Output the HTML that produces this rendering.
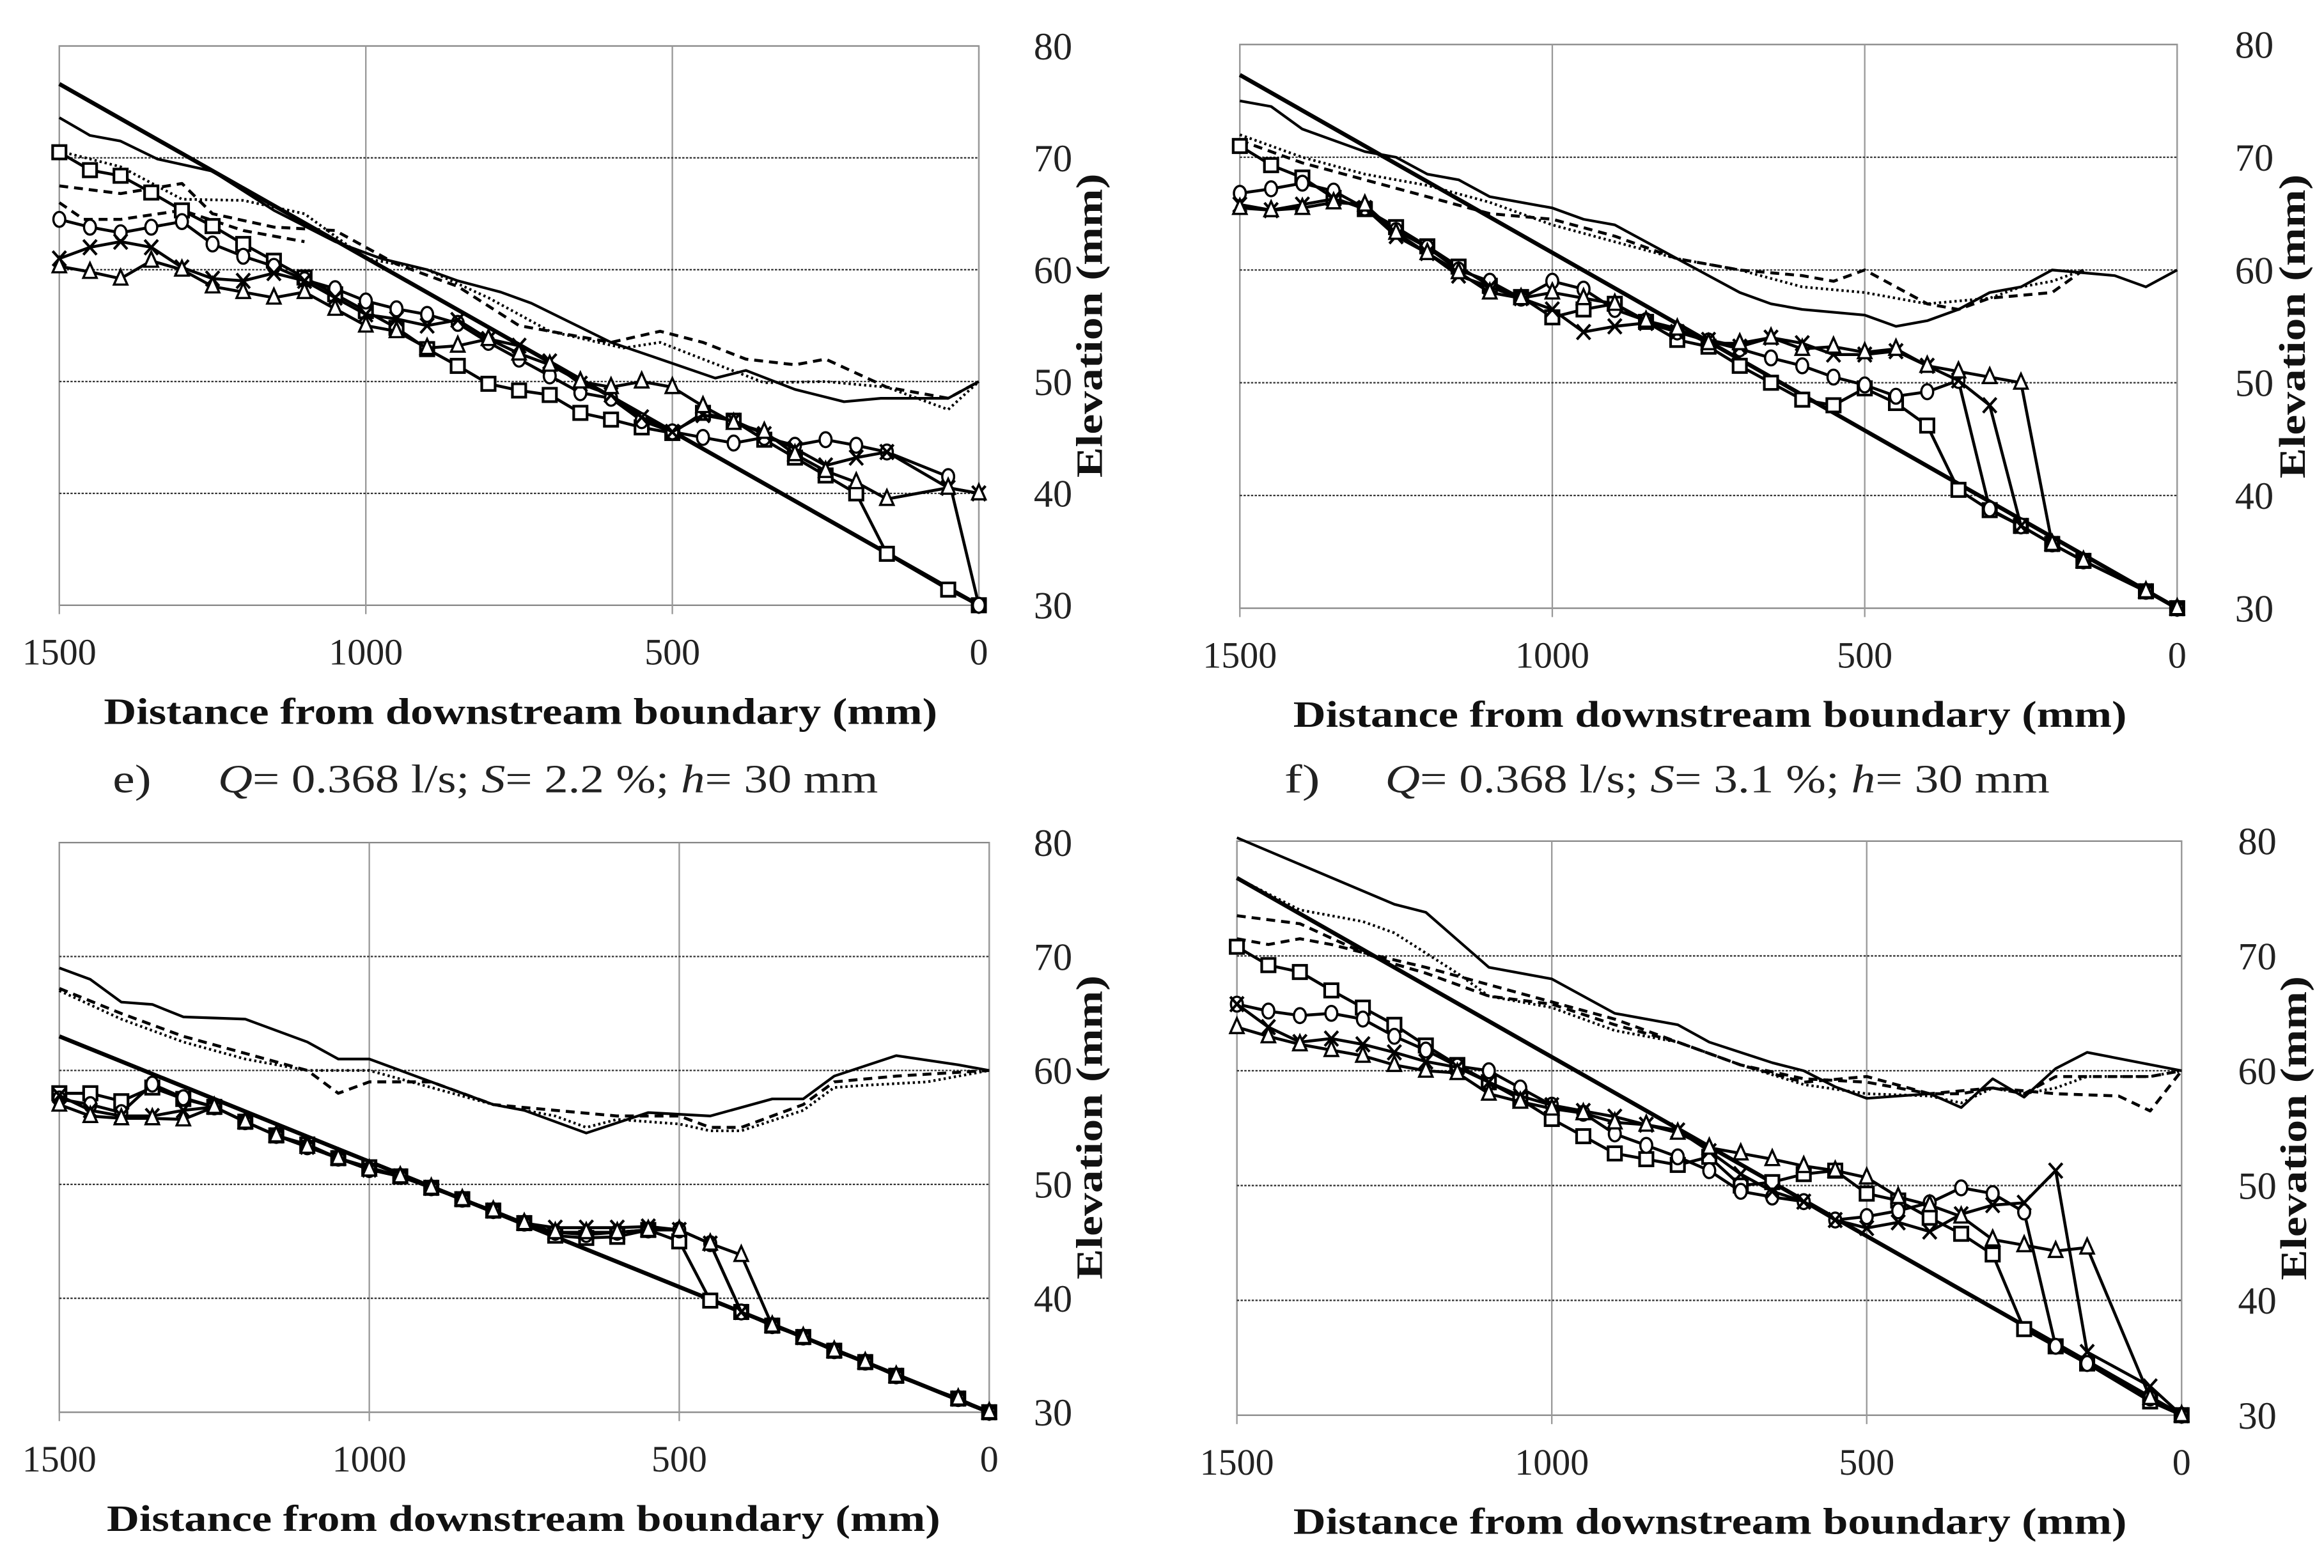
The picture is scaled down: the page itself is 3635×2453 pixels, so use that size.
<!DOCTYPE html>
<html><head><meta charset="utf-8"><style>
html,body{margin:0;padding:0;background:#fff;}
svg{display:block;font-family:"Liberation Serif",serif;}
</style></head><body>
<svg id="fig" width="3635" height="2453" viewBox="0 0 1567 1057" preserveAspectRatio="none" xmlns="http://www.w3.org/2000/svg">
<rect x="0" y="0" width="1567" height="1057" fill="#fff"/>
<g font-size="27" fill="#222">
<text x="76" y="534" textLength="26" lengthAdjust="spacingAndGlyphs">e)</text>
<text x="147" y="534" textLength="445" lengthAdjust="spacingAndGlyphs"><tspan font-style="italic">Q</tspan>= 0.368 l/s; <tspan font-style="italic">S</tspan>= 2.2 %; <tspan font-style="italic">h</tspan>= 30 mm</text>
</g>
<g font-size="27" fill="#222">
<text x="866" y="534" textLength="24" lengthAdjust="spacingAndGlyphs">f)</text>
<text x="934" y="534" textLength="448" lengthAdjust="spacingAndGlyphs"><tspan font-style="italic">Q</tspan>= 0.368 l/s; <tspan font-style="italic">S</tspan>= 3.1 %; <tspan font-style="italic">h</tspan>= 30 mm</text>
</g>
</svg>
<script>
// ---- Panel TL ----
const tlBedX=[1500,0]; const tlBedY=[76.6,30];
const tlSolidX=[1500,1450,1400,1340,1250,1150,1050,975,900,850,780,730,600,520,430,380,300,220,160,50,0];
const tlSolidY=[73.6,72,71.5,69.9,68.8,65.3,62.5,61,60,59,58,57,53.5,52,50.3,51,49.3,48.2,48.5,48.5,50];
const tlDotX=[1500,1400,1300,1200,1100,1000,900,800,700,580,520,450,350,250,150,50,0];
const tlDotY=[70.6,69.2,66.3,66.2,65,61,60,57.5,54.5,53,53.5,52,49.9,50,49.5,47.5,50];
const tlDashX=[1500,1400,1300,1250,1150,1050,950,850,750,600,520,450,380,300,250,150,50,0];
const tlDashY=[67.5,66.8,67.7,65,63.8,63.5,60.5,58.5,55,53.5,54.5,53.5,52,51.5,52,49.5,48.5,50];
const tlDash2X=[1500,1460,1400,1300,1200,1150,1100];
const tlDash2Y=[66,64.5,64.5,65.3,63.5,63,62.5];
const tlSqX=[1500,1450,1400,1350,1300,1250,1200,1150,1100,1050,1000,950,900,850,800,750,700,650,600,550,500,450,400,350,300,250,200,150,50,0];
const tlSqY=[70.5,68.9,68.4,66.9,65.3,63.9,62.3,60.8,59.3,57.8,56.3,54.8,52.9,51.4,49.8,49.2,48.8,47.2,46.6,45.9,45.4,47.2,46.5,44.8,43.2,41.6,40.0,34.6,31.4,30];
const tlCiX=[1500,1450,1400,1350,1300,1250,1200,1150,1100,1050,1000,950,900,850,800,750,700,650,600,550,500,450,400,350,300,250,200,150,50,0];
const tlCiY=[64.5,63.8,63.3,63.8,64.3,62.3,61.2,60.3,59.1,58.3,57.2,56.5,56,55.2,53.5,52,50.5,49,48.5,46.5,45.5,45,44.5,45,44.3,44.8,44.3,43.7,41.5,30];
const tlXX=[1500,1450,1400,1350,1300,1250,1200,1150,1100,1050,1000,950,900,850,800,750,700,650,600,550,500,450,400,350,300,250,200,150,50,0];
const tlXY=[61,62,62.5,62,60.2,59.2,59,59.7,59,57.5,56,55.6,55,55.5,53.8,53.2,51.8,49.8,48.8,46.8,45.5,47,46.5,45.3,44,42.5,43.2,43.7,40.5,40];
const tlTrX=[1500,1450,1400,1350,1300,1250,1200,1150,1100,1050,1000,950,900,850,800,750,700,650,600,550,500,450,400,350,300,250,200,150,50,0];
const tlTrY=[60.3,59.8,59.2,60.8,60,58.5,58,57.5,58,56.5,55,54.5,53,53.2,53.8,52.5,51.5,50,49.5,50,49.5,47.8,46.3,45.5,43.5,42,41,39.5,40.5,40];

// ---- Panel TR ----
const trBedX=[1500,0]; const trBedY=[77.3,30];
const trSolidX=[1500,1450,1400,1300,1250,1200,1150,1100,1000,950,900,800,700,650,600,500,450,400,350,300,250,200,100,50,0];
const trSolidY=[75,74.5,72.5,70.5,70,68.5,68,66.5,65.5,64.5,64,61,58,57,56.5,56,55,55.5,56.5,58,58.5,60,59.5,58.5,60];
const trDotX=[1500,1400,1300,1200,1100,1000,900,800,700,600,500,400,300,250,200,150];
const trDotY=[72,70,68.5,67.5,66,64,62.5,61,60,58.5,58,57,57.5,58.5,59,60];
const trDashX=[1500,1400,1300,1200,1100,1000,900,800,700,600,550,500,450,400,350,300,200,150];
const trDashY=[71.5,69.5,68,66.5,65,64.5,63,61,60,59.5,59,60,58.5,57,56.5,57.5,58,60];
const trSqX=[1500,1450,1400,1350,1300,1250,1200,1150,1100,1050,1000,950,900,850,800,750,700,650,600,550,500,450,400,350,300,250,200,150,50,0];
const trSqY=[71,69.3,68.2,66.4,65.4,63.8,62.1,60.3,58.6,57.6,55.8,56.5,57,55.4,53.8,53.2,51.5,50,48.5,48,49.5,48.2,46.2,40.5,38.7,37.3,35.7,34.2,31.5,30];
const trCiX=[1500,1450,1400,1350,1300,1250,1200,1150,1100,1050,1000,950,900,850,800,750,700,650,600,550,500,450,400,350,300,250,200,150,50,0];
const trCiY=[66.8,67.2,67.7,67,65.5,63.5,62,60,59,57.5,59,58.3,56.5,55.5,54.5,53.7,53,52.2,51.5,50.5,49.8,48.8,49.2,50.2,38.8,37.3,35.7,34.2,31.5,30];
const trXX=[1500,1450,1400,1350,1300,1250,1200,1150,1100,1050,1000,950,900,850,800,750,700,650,600,550,500,450,400,350,300,250,200,150,50,0];
const trXY=[65.8,65.3,65.8,66.3,65.5,63,61.5,59.5,58.5,57.5,56.5,54.5,55,55.3,54.5,53.8,53.2,54,53.5,52.5,52.5,52.8,51.5,50.2,48,37.3,35.7,34.2,31.5,30];
const trTrX=[1500,1450,1400,1350,1300,1250,1200,1150,1100,1050,1000,950,900,850,800,750,700,650,600,550,500,450,400,350,300,250,200,150,50,0];
const trTrY=[65.5,65.3,65.5,66,65.8,63.3,61.5,59.8,58,57.5,58,57.5,57,55.5,54.8,53.5,53.5,54,53,53.2,52.7,53,51.5,51,50.5,50,35.7,34.2,31.5,30];

// ---- Panel BL ----
const blBedX=[1500,0]; const blBedY=[63,30];
const blSolidX=[1500,1450,1400,1350,1300,1200,1100,1050,1000,900,800,750,650,550,450,350,300,250,150,50,0];
const blSolidY=[69,68,66,65.8,64.7,64.5,62.5,61,61,59,57,56.5,54.5,56.3,56,57.5,57.5,59.5,61.3,60.5,60];
const blDotX=[1500,1400,1300,1200,1100,1000,900,800,700,650,600,500,450,400,300,250,200,100,0];
const blDotY=[67,64.5,62.5,61,60,60,58.5,57,56,55,55.7,55.3,54.7,54.7,56.5,58.5,58.7,59,60];
const blDashX=[1500,1400,1300,1200,1100,1050,1000,900,800,700,600,500,450,400,300,250,150,0];
const blDashY=[67.2,65,63,61.5,60,58,59,59,57,56.5,56,56,55,55,57,59,59.5,60];
const blSqX=[1500,1450,1400,1350,1300,1250,1200,1150,1100,1050,1000,950,900,850,800,750,700,650,600,550,500,450,400,350,300,250,200,150,50,0];
const blSqY=[58,58,57.3,58.5,57.5,56.8,55.5,54.3,53.5,52.3,51.5,50.7,49.7,48.7,47.7,46.6,45.5,45.3,45.4,46,45,39.8,38.8,37.6,36.6,35.4,34.4,33.2,31.2,30];
const blCiX=[1500,1450,1400,1350,1300,1250,1200,1150,1100,1050,1000,950,900,850,800,750,700,650,600,550,500,450,400,350,300,250,200,150,50,0];
const blCiY=[57.5,57,56.3,58.8,57.6,56.8,55.5,54.3,53.3,52.3,51.3,50.7,49.7,48.7,47.7,46.6,45.8,45.6,45.8,46,46,44.8,38.8,37.6,36.6,35.4,34.4,33.2,31.2,30];
const blXX=[1500,1450,1400,1350,1300,1250,1200,1150,1100,1050,1000,950,900,850,800,750,700,650,600,550,500,450,400,350,300,250,200,150,50,0];
const blXY=[57.8,56.5,56,56,56.5,56.8,55.5,54.3,53.3,52.3,51.3,50.7,49.7,48.7,47.7,46.6,46.2,46.2,46.2,46.3,46,44.8,38.8,37.6,36.6,35.4,34.4,33.2,31.2,30];
const blTrX=[1500,1450,1400,1350,1300,1250,1200,1150,1100,1050,1000,950,900,850,800,750,700,650,600,550,500,450,400,350,300,250,200,150,50,0];
const blTrY=[57,56,55.8,55.8,55.7,56.8,55.5,54.3,53.3,52.3,51.3,50.7,49.7,48.7,47.7,46.6,45.8,45.8,45.8,46,46,44.8,43.8,37.6,36.6,35.4,34.4,33.2,31.2,30];

// ---- Panel BR ----
const brBedX=[1500,0]; const brBedY=[76.8,30];
const brSolidX=[1500,1250,1200,1100,1000,900,800,750,650,600,550,500,400,350,300,250,200,150,0];
const brSolidY=[80.3,74.5,73.8,69,68,65,64,62.5,60.7,60,58.6,57.6,58,56.8,59.3,57.7,60.2,61.6,60];
const brDotX=[1500,1400,1300,1250,1150,1100,1000,900,800,700,600,500,400,350,300,250,200,150,50,0];
const brDotY=[76.8,74,73,72,68.5,66.5,65.5,63.5,62.5,60.5,58.8,58,57.8,57.2,58.5,58,58.5,59.5,59.5,60];
const brDashX=[1500,1400,1300,1200,1100,1000,900,800,700,600,500,400,350,300,250,200,150,50,0];
const brDashY=[73.5,72.8,70.3,69,67.5,66,64.5,62.5,60.5,59,59.5,58,58,58.5,58,59.5,59.5,59.5,60];
const brDash2X=[1500,1450,1400,1350,1300,1250,1200,1100,1000,900,800,700,600,500,400,300,200,100,50,0];
const brDash2Y=[71.5,71,71.5,71,70.3,69.3,68.5,66.5,65.8,64,62.5,60.5,59.3,59,58,58.5,58,57.8,56.5,60];
const brSqX=[1500,1450,1400,1350,1300,1250,1200,1150,1100,1050,1000,950,900,850,800,750,700,650,600,550,500,450,400,350,300,250,200,150,50,0];
const brSqY=[70.8,69.2,68.6,67,65.5,64,62.2,60.5,59,57.5,55.8,54.3,52.8,52.3,51.8,52.5,50,50.3,51,51.3,49.3,48.7,47.2,45.8,44,37.5,36,34.5,31.2,30];
const brCiX=[1500,1450,1400,1350,1300,1250,1200,1150,1100,1050,1000,950,900,850,800,750,700,650,600,550,500,450,400,350,300,250,200,150,50,0];
const brCiY=[65.8,65.2,64.8,65,64.5,63,61.8,60.4,60,58.5,57,56.3,54.5,53.5,52.5,51.3,49.5,49,48.6,47,47.3,47.8,48.5,49.8,49.3,47.7,36,34.5,31.5,30];
const brXX=[1500,1450,1400,1350,1300,1250,1200,1150,1100,1050,1000,950,900,850,800,750,700,650,600,550,500,450,400,350,300,250,200,150,50,0];
const brXY=[65.8,63.8,62.5,62.8,62.3,61.6,60.8,60.3,59,57.8,57,56.5,56,55.3,54.8,53,51,49.5,48.6,47,46.3,46.8,46,47.5,48.3,48.5,51.3,35.5,32.5,30];
const brTrX=[1500,1450,1400,1350,1300,1250,1200,1150,1100,1050,1000,950,900,850,800,750,700,650,600,550,500,450,400,350,300,250,200,150,50,0];
const brTrY=[63.8,63,62.3,61.8,61.3,60.5,60,59.8,58,57.3,56.7,56.3,55.5,55.3,54.6,53.3,52.8,52.3,51.7,51.3,50.7,49,48.3,47.3,45.3,44.8,44.3,44.6,31.5,30];

const xTicks=[1500,1000,500,0];
const yTicks=[30,40,50,60,70,80];

const NS="http://www.w3.org/2000/svg";
const svg=document.getElementById('fig');
function mk(tag,attrs,parent){const e=document.createElementNS(NS,tag);for(const k in attrs)e.setAttribute(k,attrs[k]);(parent||svg).appendChild(e);return e;}

const panels=[
 {id:'tl',x0:40,x1:660,y80:31,y30:408,lab:710,ttl:734,tx:351,
  series:[[tlBedX,tlBedY,'bed'],[tlSolidX,tlSolidY,'solid'],[tlDotX,tlDotY,'dot'],[tlDashX,tlDashY,'dash'],[tlDash2X,tlDash2Y,'dash'],
   [tlSqX,tlSqY,'sq'],[tlCiX,tlCiY,'ci'],[tlXX,tlXY,'x'],[tlTrX,tlTrY,'tr']]},
 {id:'tr',x0:836,x1:1468,y80:30,y30:410,lab:1520,ttl:1545,tx:1153,
  series:[[trBedX,trBedY,'bed'],[trSolidX,trSolidY,'solid'],[trDotX,trDotY,'dot'],[trDashX,trDashY,'dash'],
   [trSqX,trSqY,'sq'],[trCiX,trCiY,'ci'],[trXX,trXY,'x'],[trTrX,trTrY,'tr']]},
 {id:'bl',x0:40,x1:667,y80:568,y30:952,lab:710,ttl:734,tx:353,
  series:[[blBedX,blBedY,'bed'],[blSolidX,blSolidY,'solid'],[blDotX,blDotY,'dot'],[blDashX,blDashY,'dash'],
   [blSqX,blSqY,'sq'],[blCiX,blCiY,'ci'],[blXX,blXY,'x'],[blTrX,blTrY,'tr']]},
 {id:'br',x0:834,x1:1471,y80:567,y30:954,lab:1522,ttl:1546,tx:1153,
  series:[[brBedX,brBedY,'bed'],[brSolidX,brSolidY,'solid'],[brDotX,brDotY,'dot'],[brDashX,brDashY,'dash'],[brDash2X,brDash2Y,'dash'],
   [brSqX,brSqY,'sq'],[brCiX,brCiY,'ci'],[brXX,brXY,'x'],[brTrX,brTrY,'tr']]}
];
const names={bed:'initial-bed-line',solid:'water-surface-solid',dot:'water-surface-dotted',dash:'water-surface-dashed',sq:'bed-profile-squares',ci:'bed-profile-circles',x:'bed-profile-crosses',tr:'bed-profile-triangles'};

panels.forEach(p=>{
 const g=mk('g',{});
 
 
 const sx=v=>p.x1+(p.x0-p.x1)*v/1500;
 const sy=v=>p.y30-(v-30)*(p.y30-p.y80)/50;
 const fr=mk('rect',{x:p.x0,y:sy(80),width:p.x1-p.x0,height:sy(30)-sy(80),fill:'none',stroke:'#888','stroke-width':1},g);
 
 
 xTicks.forEach(t=>{
  const gl=mk('line',{x1:sx(t),x2:sx(t),y1:sy(80),y2:sy(30)+6,stroke:'#999','stroke-width':1},g);
  
  
  const tl=mk('text',{x:sx(t),y:sy(30)+40,'text-anchor':'middle','font-size':25,fill:'#222'},g);
  tl.textContent=t;
  
  
 });
 yTicks.forEach(t=>{
  if(t>30&&t<80){
   const gl=mk('line',{x1:p.x0,x2:p.x1,y1:sy(t),y2:sy(t),stroke:'#333','stroke-width':1,'stroke-dasharray':'1.5,1'},g);
   
   
  }
  const tl=mk('text',{x:p.lab,y:sy(t)+9,'text-anchor':'middle','font-size':26,fill:'#222'},g);
  tl.textContent=t;
  
  
 });
 const mid=(sy(80)+sy(30))/2;
 const yt=mk('text',{x:p.ttl,y:mid,'text-anchor':'middle','font-size':25,'font-weight':'bold',fill:'#111',transform:`rotate(-90 ${p.ttl} ${mid})`,dy:9,textLength:205,lengthAdjust:'spacingAndGlyphs'},g);
 yt.textContent='Elevation (mm)';
 
 
 const xt=mk('text',{x:p.tx,y:sy(30)+80,'text-anchor':'middle','font-size':25,'font-weight':'bold',fill:'#111',textLength:562,lengthAdjust:'spacingAndGlyphs'},g);
 xt.textContent='Distance from downstream boundary (mm)';
 
 
 p.series.forEach(([xs,ys,type])=>{
  const pts=xs.map((x,i)=>sx(x).toFixed(1)+','+sy(ys[i]).toFixed(1)).join(' ');
  const st={fill:'none',stroke:'#000','stroke-linejoin':'round'};
  if(type==='bed'){st['stroke-width']=2.8;}
  else if(type==='solid'){st['stroke-width']=1.8;}
  else if(type==='dot'){st['stroke-width']=1.8;st['stroke-dasharray']='1.5,2';}
  else if(type==='dash'){st['stroke-width']=2;st['stroke-dasharray']='6,4';}
  else {st['stroke-width']=2;}
  const pl=mk('polyline',Object.assign({points:pts},st),g);
  
  
  if(['sq','ci','x','tr'].includes(type)){
   xs.forEach((x,i)=>{
    const cx=sx(x),cy=sy(ys[i]);let m;
    if(type==='sq')m=mk('rect',{x:cx-4.5,y:cy-4.5,width:9,height:9,fill:'#fff',stroke:'#000','stroke-width':1.8},g);
    else if(type==='ci')m=mk('ellipse',{cx:cx,cy:cy,rx:4,ry:5,fill:'#fff',stroke:'#000','stroke-width':1.5},g);
    else if(type==='x')m=mk('path',{d:`M${cx-4.5},${cy-5}L${cx+4.5},${cy+5}M${cx+4.5},${cy-5}L${cx-4.5},${cy+5}`,stroke:'#000','stroke-width':1.8},g);
    else m=mk('polygon',{points:`${cx},${cy-6} ${cx+4.5},${cy+4} ${cx-4.5},${cy+4}`,fill:'#fff',stroke:'#000','stroke-width':1.5},g);
    
    
   });
  }
 });
});
</script>
</body></html>
